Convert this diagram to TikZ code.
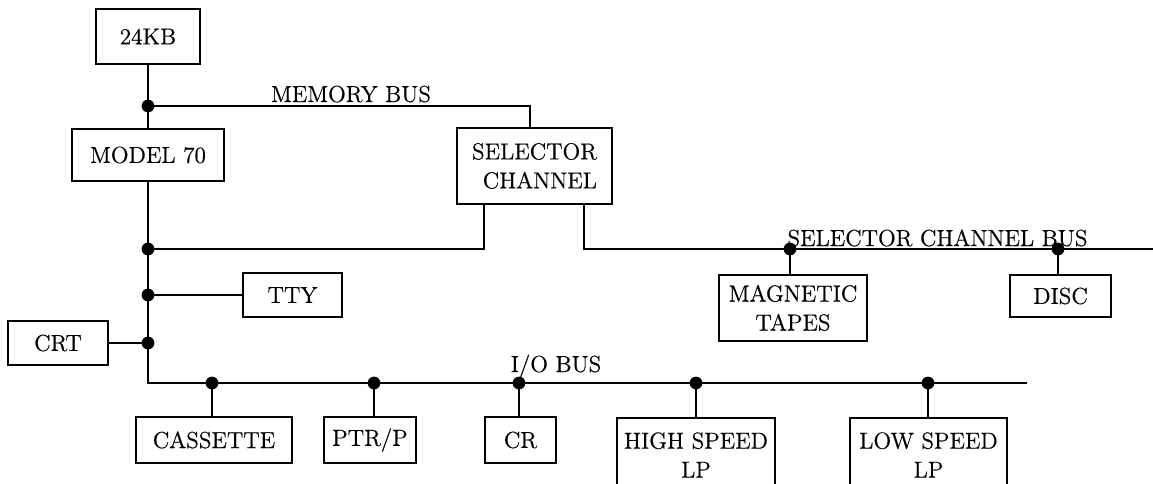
\documentclass[tikz,border=0pt]{standalone}
\usepackage{fontspec}
\newfontfamily\scanfont[BoldFont={Latin Modern Roman},BoldFeatures={FakeBold=0.5}]{Latin Modern Roman}
\begin{document}
\begin{tikzpicture}[x=0.5pt,y=-0.5pt,
  txt/.style={font=\scanfont\bfseries\fontsize{11.6}{14.5}\selectfont},
  box/.style={txt,draw,line width=1pt,inner sep=0pt,align=center},
  lbl/.style={txt,inner sep=0pt},
  wire/.style={line width=1pt}]
\useasboundingbox (0,0) rectangle (1153,483);
\fill[white] (0,0) rectangle (1153,483);
\clip (0,0) rectangle (1153,483);

% boxes
\node[box,minimum width=52pt,minimum height=27.5pt] (kb) at (148,36.5) {24KB};
\node[box,minimum width=76pt,minimum height=26pt] (m70) at (148,155) {MODEL 70};
\node[box,minimum width=77.5pt,minimum height=38pt,align=right] (sel) at (534.5,166) {SELECTOR\\CHANNEL};
\node[box,minimum width=74pt,minimum height=33pt] (mag) at (793,308) {MAGNETIC\\TAPES};
\node[box,minimum width=50.5pt,minimum height=21pt] (disc) at (1060.5,296) {DISC};
\node[box,minimum width=49.5pt,minimum height=22pt] (tty) at (292.5,295) {TTY};
\node[box,minimum width=50pt,minimum height=22pt] (crt) at (58,343) {CRT};
\node[box,minimum width=78pt,minimum height=23pt] (cas) at (214,440) {CASSETTE};
\node[box,minimum width=46pt,minimum height=23pt] (ptr) at (370,440) {PTR/P};
\node[box,minimum width=35.5pt,minimum height=23pt] (cr) at (520.5,440) {CR};
\node[box,minimum width=79pt,minimum height=37pt] (hs) at (696,455) {HIGH SPEED\\LP};
\node[box,minimum width=78.5pt,minimum height=37pt] (ls) at (928.5,455) {LOW SPEED\\LP};

% bus labels
\node[lbl,anchor=base] (lmem) at (351,102) {MEMORY BUS};
\node[lbl,anchor=base] (lscb) at (937.5,246) {SELECTOR CHANNEL BUS};
\node[lbl,anchor=base] (lio) at (556,372) {I/O BUS};

% junction points
\coordinate (jm) at (148,106);
\coordinate (jsel) at (148,249);
\coordinate (jtty) at (148,295);
\coordinate (jcrt) at (148,343);
\coordinate (jio) at (148,383);
\coordinate (ioend) at (1027,383);
\coordinate (scbend) at (1153,249);
\coordinate (memx) at (530,0);
\coordinate (selxl) at (484,0);
\coordinate (selxr) at (584,0);
\coordinate (dmag) at (790,249);
\coordinate (ddisc) at (1058,249);
\coordinate (dcas) at (212,383);
\coordinate (dptr) at (374,383);
\coordinate (dcr) at (519,383);
\coordinate (dhs) at (696,383);
\coordinate (dls) at (928,383);

% wires
\draw[wire] (kb) -- (m70);
\draw[wire] (jm) -| (memx |- sel.north);
\draw[wire] (m70.south) -- (jio) -- (ioend);
\draw[wire] (sel.south -| selxl) |- (jsel);
\draw[wire] (sel.south -| selxr) |- (scbend);
\draw[wire] (jtty) -- (tty.west);
\draw[wire] (jcrt) -- (crt.east);
\draw[wire] (dmag) -- (dmag |- mag.north);
\draw[wire] (ddisc) -- (ddisc |- disc.north);
\draw[wire] (dcas) -- (dcas |- cas.north);
\draw[wire] (dptr) -- (dptr |- ptr.north);
\draw[wire] (dcr) -- (dcr |- cr.north);
\draw[wire] (dhs) -- (dhs |- hs.north);
\draw[wire] (dls) -- (dls |- ls.north);

% dots
\foreach \p in {jm,jsel,jtty,jcrt,dmag,ddisc,dcas,dptr,dcr,dhs,dls}
  \fill (\p) circle (3.2pt);
\end{tikzpicture}
\end{document}
